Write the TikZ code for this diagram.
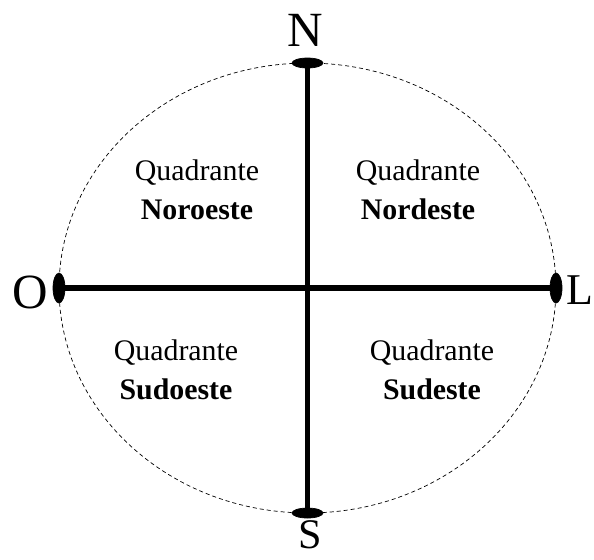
\documentclass[tikz,border=0pt]{standalone}
\usepackage{fontspec}
\setmainfont{Liberation Serif}
\usetikzlibrary{shapes.geometric}

\begin{document}
\begin{tikzpicture}[
        x=0.02cm, y=-0.02cm,
        pole/.style={ellipse, fill=black, draw=black, inner sep=0pt},
        polev/.style={pole, minimum width=0.62cm, minimum height=0.2cm},
        poleh/.style={pole, minimum width=0.24cm, minimum height=0.6cm},
        axisline/.style={line width=3.4pt},
        cardinal/.style={font=\fontsize{28}{30}\selectfont, inner sep=0pt},
        quadlabel/.style={align=center, font=\fontsize{17}{22}\selectfont, inner sep=0pt}
    ]
        \useasboundingbox (0,0) rectangle (594,559);

        % Horizon: dashed ellipse round the centre
        \draw[line width=0.4pt, dash pattern=on 2.3pt off 1.7pt] (307.5,288) ellipse [x radius=4.97cm, y radius=4.5cm];

        % Ends of the two axes
        \node[polev] (northEnd) at (307.5,63) {};
        \node[polev] (southEnd) at (307.5,513) {};
        \node[poleh] (westEnd) at (59,288) {};
        \node[poleh] (eastEnd) at (556,288) {};

        % Axes
        \draw[axisline] (northEnd) -- (southEnd);
        \draw[axisline] (westEnd) -- (eastEnd);

        % Cardinal points
        \node[cardinal] (north) at (305,30) {N};
        \node[cardinal, font=\fontsize{24}{26}\selectfont] (south) at (310,535) {S};
        \node[cardinal] (west) at (30,292) {O};
        \node[cardinal, anchor=west, font=\fontsize{25}{28}\selectfont] (east) at (566,290) {L};

        % Quadrants
        \node[quadlabel] (qNW) at (197,190) {Quadrante\\\textbf{Noroeste}};
        \node[quadlabel] (qNE) at (418,190) {Quadrante\\\textbf{Nordeste}};
        \node[quadlabel] (qSW) at (176,370) {Quadrante\\\textbf{Sudoeste}};
        \node[quadlabel] (qSE) at (432,370) {Quadrante\\\textbf{Sudeste}};
    \end{tikzpicture}
\end{document}
